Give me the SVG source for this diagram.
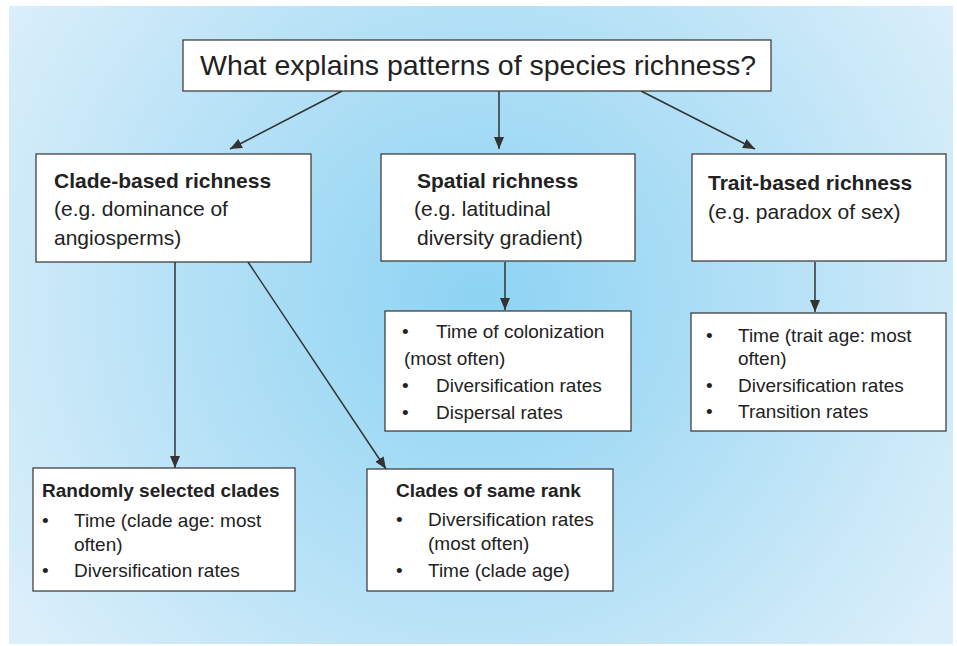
<svg xmlns="http://www.w3.org/2000/svg" width="957" height="646" viewBox="0 0 957 646">
<defs>
<radialGradient id="bg" cx="480" cy="300" r="560" gradientUnits="userSpaceOnUse">
<stop offset="0" stop-color="#8dd3f3"/>
<stop offset="0.5" stop-color="#b3e0f6"/>
<stop offset="1" stop-color="#dbeffa"/>
</radialGradient>
<marker id="ah" viewBox="0 0 12 10" refX="12" refY="5" markerWidth="12" markerHeight="10" markerUnits="userSpaceOnUse" orient="auto">
<path d="M0,0 L12,5 L0,10 z" fill="#333"/>
</marker>
<style>
.box{fill:#fff;stroke:#333;stroke-width:1.2}
.t{font-family:"Liberation Sans",Arial,sans-serif;font-size:19px;fill:#222}
.m{font-size:21px}
.b{font-weight:bold}
.h{font-size:28.5px}
.c{stroke:#333;stroke-width:1.5;fill:none;marker-end:url(#ah)}
</style>
</defs>
<rect x="0" y="0" width="957" height="646" fill="#fff"/>
<rect x="9" y="6" width="944" height="638" fill="url(#bg)"/>
<g id="connectors">
<line class="c" x1="342" y1="91" x2="230" y2="149"/>
<line class="c" x1="499" y1="91" x2="499" y2="149"/>
<line class="c" x1="641" y1="91" x2="755" y2="149"/>
<line class="c" x1="175" y1="262" x2="175" y2="468"/>
<line class="c" x1="248" y1="262" x2="386" y2="469"/>
<line class="c" x1="505" y1="262" x2="505" y2="310"/>
<line class="c" x1="815" y1="262" x2="815" y2="312"/>
</g>
<g id="root">
<rect class="box" x="183" y="40" width="588" height="51"/>
<text class="t h" x="478" y="75" text-anchor="middle">What explains patterns of species richness?</text>
</g>
<g id="clade">
<rect class="box" x="36" y="154" width="275" height="108"/>
<text class="t m b" x="54" y="188">Clade-based richness</text>
<text class="t m" x="54" y="216">(e.g. dominance of</text>
<text class="t m" x="54" y="245">angiosperms)</text>
</g>
<g id="spatial">
<rect class="box" x="381" y="154" width="254" height="107"/>
<text class="t m b" x="417" y="188">Spatial richness</text>
<text class="t m" x="414" y="216">(e.g. latitudinal</text>
<text class="t m" x="417" y="245">diversity gradient)</text>
</g>
<g id="trait">
<rect class="box" x="692" y="154" width="254" height="107"/>
<text class="t m b" x="708" y="190">Trait-based richness</text>
<text class="t m" x="708" y="219">(e.g. paradox of sex)</text>
</g>
<g id="spatial-factors">
<rect class="box" x="385" y="311" width="246" height="120"/>
<text class="t" x="402" y="338">•</text>
<text class="t" x="436" y="338">Time of colonization</text>
<text class="t" x="404" y="365">(most often)</text>
<text class="t" x="402" y="392">•</text>
<text class="t" x="436" y="392">Diversification rates</text>
<text class="t" x="402" y="419">•</text>
<text class="t" x="436" y="419">Dispersal rates</text>
</g>
<g id="trait-factors">
<rect class="box" x="691" y="313" width="255" height="118"/>
<text class="t" x="706" y="342">•</text>
<text class="t" x="738" y="342">Time (trait age: most</text>
<text class="t" x="738" y="365">often)</text>
<text class="t" x="706" y="392">•</text>
<text class="t" x="738" y="392">Diversification rates</text>
<text class="t" x="706" y="418">•</text>
<text class="t" x="738" y="418">Transition rates</text>
</g>
<g id="random-clades">
<rect class="box" x="33" y="468" width="262" height="123"/>
<text class="t b" x="42" y="497">Randomly selected clades</text>
<text class="t" x="42" y="527">•</text>
<text class="t" x="74" y="527">Time (clade age: most</text>
<text class="t" x="74" y="551">often)</text>
<text class="t" x="42" y="577">•</text>
<text class="t" x="74" y="577">Diversification rates</text>
</g>
<g id="same-rank">
<rect class="box" x="367" y="469" width="246" height="122"/>
<text class="t b" x="396" y="497">Clades of same rank</text>
<text class="t" x="396" y="526">•</text>
<text class="t" x="428" y="526">Diversification rates</text>
<text class="t" x="428" y="550">(most often)</text>
<text class="t" x="396" y="577">•</text>
<text class="t" x="428" y="577">Time (clade age)</text>
</g>
</svg>
